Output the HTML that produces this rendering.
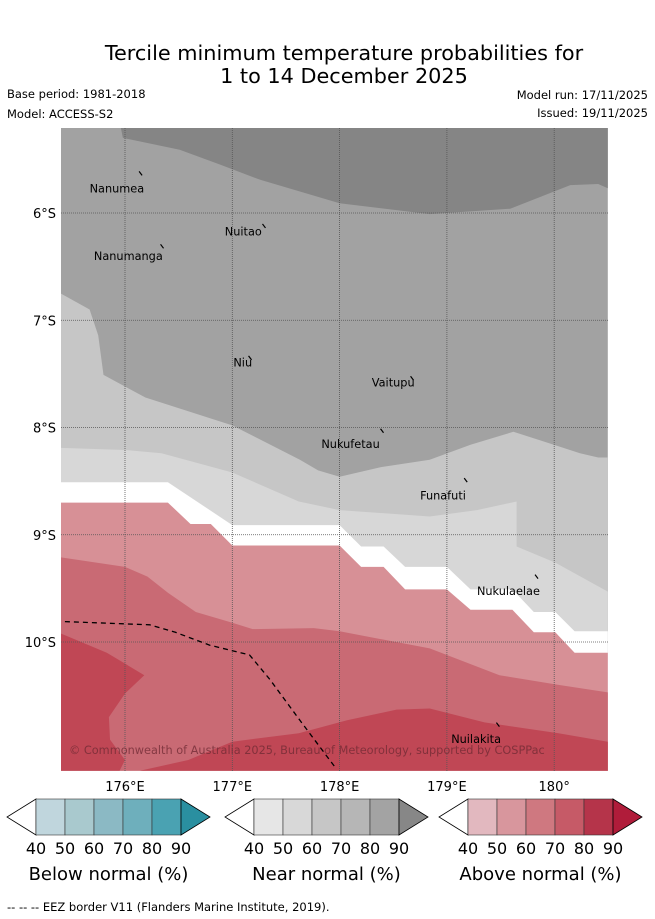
<!DOCTYPE html>
<html><head><meta charset="utf-8">
<style>
body{margin:0;background:#fff;width:655px;height:919px;overflow:hidden;font-family:"Liberation Sans","DejaVu Sans",sans-serif;}
svg{position:absolute;left:0;top:0}
</style></head>
<body>
<svg id="chart" width="655" height="919" viewBox="0 0 655 919" font-family="DejaVu Sans, Liberation Sans, sans-serif">
  <text x="344" y="60" font-size="20.8" text-anchor="middle" fill="#000">Tercile minimum temperature probabilities for</text>
  <text x="344" y="83" font-size="20.8" text-anchor="middle" fill="#000">1 to 14 December 2025</text>
  <text x="7" y="98" font-size="11.5">Base period: 1981-2018</text>
  <text x="7" y="118" font-size="11.5">Model: ACCESS-S2</text>
  <text x="648" y="99" font-size="11.5" text-anchor="end">Model run: 17/11/2025</text>
  <text x="648" y="117" font-size="11.5" text-anchor="end">Issued: 19/11/2025</text>
  <defs><clipPath id="mapclip"><rect x="61" y="128" width="547" height="643"/></clipPath></defs>
  <g id="map" clip-path="url(#mapclip)"></g>
  <g id="axes"></g>
  <g id="legend"></g>
  <text x="7" y="911" font-size="11.5">--  --  -- EEZ border V11 (Flanders Marine Institute, 2019).</text>
</svg>
<script>
// ---- data ----
const lonTicks = [176, 177, 178, 179, 180];
const lonTickLabels = ["176°E", "177°E", "178°E", "179°E", "180°"];
const latTicks = [6, 7, 8, 9, 10];
const latTickLabels = ["6°S", "7°S", "8°S", "9°S", "10°S"];
const islandNames = ["Nanumea","Nuitao","Nanumanga","Niu","Vaitupu","Nukufetau","Funafuti","Nukulaelae","Nuilakita"];
const islandLon = [176.15, 177.30, 176.35, 177.17, 178.68, 178.40, 179.18, 179.84, 179.48];
const islandLat = [5.64, 6.13, 6.32, 7.36, 7.55, 8.04, 8.50, 9.40, 10.78];
const labelLon = [175.67, 176.93, 175.71, 177.01, 178.30, 177.83, 178.75, 179.28, 179.04];
const labelLat = [5.81, 6.21, 6.44, 7.43, 7.62, 8.19, 8.67, 9.56, 10.94];
const bandColors = ["#a2a2a2","#858585","#c6c6c6","#d7d7d7","#ffffff","#d79096","#c96a74","#c04755","#c04755"];
const bandNames = ["near-80-90","near-90-plus","near-60-70","near-50-60","no-signal","above-50-60","above-60-70","above-70-80-west","above-70-80-south"];
const bandPolys = [
 [[175.40,5.2],[180.50,5.2],[180.50,11.2],[175.40,11.2]],
 [[175.96,5.2],[175.98,5.30],[176.51,5.41],[176.89,5.55],[177.26,5.69],[178.00,5.91],[178.84,6.01],[179.59,5.96],[180.15,5.74],[180.41,5.73],[180.50,5.77],[180.50,5.2]],
 [[175.40,6.75],[175.67,6.90],[175.75,7.14],[175.80,7.51],[176.19,7.72],[177.00,7.98],[177.63,8.30],[177.80,8.40],[178.00,8.46],[178.38,8.37],[178.84,8.30],[179.22,8.16],[179.62,8.04],[179.87,8.12],[180.24,8.24],[180.41,8.28],[180.50,8.28],[180.50,11.2],[175.40,11.2]],
 [[175.40,8.19],[176.00,8.21],[176.34,8.24],[177.00,8.42],[177.62,8.69],[178.00,8.77],[178.84,8.83],[179.28,8.77],[179.65,8.69],[179.65,9.11],[180.01,9.26],[180.50,9.53],[180.50,11.2],[175.40,11.2]],
 [[175.40,8.51],[176.40,8.51],[177.00,8.91],[178.00,8.91],[178.20,9.11],[178.41,9.11],[178.61,9.30],[179.00,9.30],[179.22,9.51],[179.61,9.51],[179.81,9.72],[180.01,9.72],[180.19,9.90],[180.50,9.90],[180.50,11.2],[175.40,11.2]],
 [[175.40,8.70],[176.40,8.70],[176.61,8.90],[176.80,8.90],[177.00,9.10],[178.00,9.10],[178.20,9.30],[178.41,9.30],[178.61,9.51],[179.00,9.51],[179.22,9.70],[179.61,9.70],[179.81,9.91],[180.01,9.91],[180.19,10.10],[180.50,10.10],[180.50,11.2],[175.40,11.2]],
 [[175.40,9.21],[176.00,9.30],[176.21,9.39],[176.40,9.54],[176.66,9.72],[177.00,9.82],[177.19,9.88],[177.76,9.87],[178.00,9.90],[178.84,10.06],[179.49,10.31],[180.04,10.40],[180.50,10.47],[180.50,11.2],[175.40,11.2]],
 [[175.40,9.92],[175.83,10.10],[176.18,10.31],[176.00,10.48],[175.85,10.70],[175.86,10.91],[176.00,11.10],[175.95,11.2],[175.40,11.2]],
 [[176.14,11.2],[176.59,11.10],[177.00,10.93],[177.62,10.85],[178.07,10.73],[178.53,10.63],[178.84,10.62],[179.35,10.75],[180.04,10.85],[180.50,10.93],[180.50,11.2]]
];
const eezLon = [175.44, 176.23, 176.47, 176.79, 177.16, 177.35, 177.63, 177.96];
const eezLat = [9.81, 9.84, 9.91, 10.03, 10.12, 10.35, 10.73, 11.17];
const legendTitles = ["Below normal (%)", "Near normal (%)", "Above normal (%)"];
const legendTicks = [40, 50, 60, 70, 80, 90];
const belowColors = ["#c0d6dd","#a9c9ce","#8bb9c4","#6eafbc","#4aa2b2","#2a8fa0"];
const nearColors = ["#e6e6e6","#d8d8d8","#c6c6c6","#b6b6b6","#a3a3a3","#878787"];
const aboveColors = ["#e2b8bf","#d8969d","#cf7880","#c65a67","#b5344a","#b01c3a"];

// ---- axis functions ----
const X = lon => 125 + (lon - 176) * 107.3;
const Y = lat => 213 + (lat - 6) * 107.25;
const NS = "http://www.w3.org/2000/svg";
function mk(tag, attrs, parent, txt){const e=document.createElementNS(NS,tag);for(const k in attrs)e.setAttribute(k,attrs[k]);if(txt!==undefined)e.textContent=txt;parent.appendChild(e);return e;}

const map = document.getElementById('map');
bandPolys.forEach((poly, i) => {
  const p = mk('polygon', {points: poly.map(q => X(q[0]).toFixed(1)+','+Y(q[1]).toFixed(1)).join(' '), fill: bandColors[i]}, map);
  
  
});
lonTicks.forEach((lon, i) => {
  const l = mk('line', {x1: X(lon), x2: X(lon), y1: 128, y2: 771, stroke: '#555', 'stroke-width': 0.8, 'stroke-dasharray': '1,1'}, map);
  
  
});
latTicks.forEach((lat, i) => {
  const l = mk('line', {x1: 61, x2: 608, y1: Y(lat), y2: Y(lat), stroke: '#555', 'stroke-width': 0.8, 'stroke-dasharray': '1,1'}, map);
  
  
});
const eez = mk('polyline', {points: eezLon.map((lo, i) => X(lo).toFixed(1)+','+Y(eezLat[i]).toFixed(1)).join(' '), fill: 'none', stroke: '#000', 'stroke-width': 1.3, 'stroke-dasharray': '5,4'}, map);


islandNames.forEach((n, i) => {
  const m = mk('path', {d: 'M' + (X(islandLon[i]) - 2) + ',' + (Y(islandLat[i]) - 3) + ' l3,4', stroke: '#000', 'stroke-width': 1.2, fill: 'none'}, map);
  
  
  const t = mk('text', {x: X(labelLon[i]), y: Y(labelLat[i]), 'font-size': 11.3, fill: '#000'}, map, n);
  
  
});
const cr = mk('text', {x: 69, y: 754, 'font-size': 11.3, fill: '#6e2a33', 'fill-opacity': 0.75}, map, '© Commonwealth of Australia 2025, Bureau of Meteorology, supported by COSPPac');



const axes = document.getElementById('axes');
lonTicks.forEach((lon, i) => {
  const t = mk('text', {x: X(lon), y: 791, 'font-size': 13, 'text-anchor': 'middle'}, axes, lonTickLabels[i]);
  
  
});
latTicks.forEach((lat, i) => {
  const t = mk('text', {x: 56, y: Y(lat) + 5, 'font-size': 13, 'text-anchor': 'end'}, axes, latTickLabels[i]);
  
  
});

const legend = document.getElementById('legend');
const sets = [belowColors, nearColors, aboveColors];
const starts = [36, 254, 468];
sets.forEach((cols, s) => {
  const x0 = starts[s], w = 29, y0 = 799, h = 36, ym = y0 + h / 2;
  const g = mk('g', {}, legend);
  
  
  mk('polygon', {points: `${x0},${y0} ${x0-29},${ym} ${x0},${y0+h}`, fill: '#fff', stroke: '#000', 'stroke-width': 0.8}, g);
  cols.slice(0, 5).forEach((c, k) => {
    mk('rect', {x: x0 + k * w, y: y0, width: w, height: h, fill: c, stroke: '#333', 'stroke-width': 0.6}, g);
  });
  mk('polygon', {points: `${x0+5*w},${y0} ${x0+6*w},${ym} ${x0+5*w},${y0+h}`, fill: cols[5], stroke: '#000', 'stroke-width': 0.8}, g);
  legendTicks.forEach((v, k) => {
    const t = mk('text', {x: x0 + k * w, y: 854, 'font-size': 16, 'text-anchor': 'middle'}, g, String(v));
    
    
  });
  const tt = mk('text', {x: x0 + 2.5 * w, y: 880, 'font-size': 18, 'text-anchor': 'middle'}, g, legendTitles[s]);
  
  
});
</script>
</body></html>
